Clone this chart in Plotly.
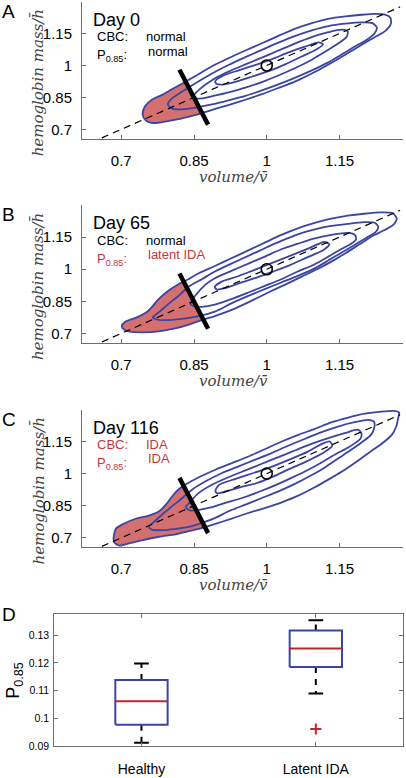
import plotly.graph_objects as go

# ---------------- data ----------------
TICK_VALS = [0.7, 0.85, 1.0, 1.15]
TICK_TEXT = ["0.7", "0.85", "1", "1.15"]
DAYS = ["Day 0", "Day 65", "Day 116"]
CBC_STATUS = ["normal", "normal", "IDA"]
P085_STATUS = ["normal", "latent IDA", "IDA"]
PANEL_LETTERS = ["A", "B", "C", "D"]

MEAN_POINT = [1.0, 1.0]
DIAG = [0.66, 1.275]                       # y = x reference line
THRESH_X = [0.820, 0.879]                  # P0.85 threshold segment
THRESH_Y = [0.980, 0.722]

# Panel A contours (outer -> inner)
A_L1_X = [0.744,0.749,0.763,0.784,0.804,0.825,0.853,0.887,0.921,0.956,0.990,1.024,1.059,1.093,1.127,1.162,1.196,1.224,1.244,1.255,1.256,1.246,1.227,1.203,1.176,1.148,1.121,1.093,1.059,1.024,0.990,0.956,0.921,0.887,0.856,0.825,0.798,0.776,0.760,0.749]
A_L1_Y = [0.772,0.808,0.839,0.862,0.888,0.914,0.950,0.996,1.034,1.070,1.104,1.139,1.173,1.199,1.219,1.230,1.238,1.242,1.239,1.224,1.196,1.165,1.138,1.107,1.070,1.031,0.996,0.962,0.925,0.894,0.865,0.839,0.814,0.791,0.769,0.752,0.740,0.731,0.731,0.745]
A_L2_X = [0.796,0.803,0.825,0.853,0.887,0.921,0.956,0.990,1.024,1.059,1.093,1.127,1.162,1.196,1.218,1.227,1.222,1.207,1.179,1.152,1.124,1.093,1.059,1.024,0.990,0.956,0.921,0.887,0.853,0.825,0.806]
A_L2_Y = [0.817,0.842,0.876,0.916,0.962,1.002,1.039,1.073,1.107,1.139,1.165,1.185,1.196,1.202,1.199,1.178,1.150,1.122,1.085,1.048,1.011,0.977,0.943,0.911,0.883,0.857,0.836,0.817,0.802,0.794,0.796]
A_L3_X = [0.849,0.863,0.887,0.921,0.956,0.990,1.024,1.059,1.093,1.127,1.155,1.167,1.165,1.148,1.121,1.093,1.059,1.024,0.990,0.956,0.921,0.890,0.866,0.853]
A_L3_Y = [0.857,0.891,0.931,0.971,1.005,1.037,1.070,1.104,1.133,1.156,1.168,1.158,1.135,1.104,1.065,1.027,0.988,0.953,0.922,0.896,0.874,0.857,0.845,0.845]
A_L4_X = [0.894,0.911,0.942,0.976,1.011,1.045,1.079,1.107,1.116,1.103,1.072,1.038,1.004,0.969,0.935,0.908,0.896]
A_L4_Y = [0.927,0.953,0.977,1.002,1.030,1.061,1.088,1.108,1.099,1.076,1.042,1.005,0.973,0.947,0.923,0.910,0.914]

# Panel B contours
B_L1_X = [0.701,0.708,0.732,0.756,0.777,0.797,0.818,0.832,0.859,0.893,0.927,0.962,0.996,1.030,1.064,1.099,1.133,1.167,1.201,1.236,1.260,1.268,1.262,1.244,1.218,1.191,1.164,1.136,1.105,1.071,1.037,1.003,0.968,0.934,0.893,0.866,0.838,0.811,0.777,0.742,0.718,0.705]
B_L1_Y = [0.734,0.754,0.775,0.806,0.860,0.899,0.930,0.945,0.980,1.015,1.051,1.088,1.124,1.160,1.191,1.216,1.236,1.250,1.259,1.265,1.261,1.237,1.209,1.184,1.155,1.116,1.077,1.039,1.001,0.964,0.927,0.891,0.852,0.816,0.781,0.762,0.740,0.723,0.709,0.705,0.708,0.719]
B_L2_X = [0.765,0.777,0.797,0.818,0.838,0.866,0.893,0.927,0.962,0.996,1.030,1.064,1.099,1.133,1.167,1.201,1.223,1.230,1.225,1.208,1.181,1.153,1.126,1.099,1.064,1.030,0.996,0.962,0.927,0.893,0.859,0.825,0.790,0.773]
B_L2_Y = [0.775,0.798,0.837,0.875,0.917,0.953,0.989,1.026,1.062,1.098,1.132,1.163,1.186,1.202,1.212,1.220,1.217,1.197,1.175,1.150,1.113,1.076,1.039,1.004,0.969,0.938,0.907,0.875,0.840,0.802,0.781,0.768,0.762,0.765]
B_L3_X = [0.842,0.852,0.873,0.893,0.927,0.962,0.996,1.030,1.064,1.099,1.133,1.167,1.182,1.184,1.174,1.153,1.126,1.099,1.064,1.030,0.996,0.962,0.927,0.893,0.866,0.849]
B_L3_Y = [0.840,0.875,0.927,0.958,0.992,1.026,1.059,1.093,1.119,1.144,1.160,1.170,1.160,1.139,1.119,1.093,1.057,1.023,0.989,0.953,0.922,0.891,0.860,0.834,0.824,0.827]
B_L4_X = [0.893,0.907,0.941,0.975,1.010,1.044,1.085,1.119,1.129,1.116,1.082,1.047,1.013,0.979,0.945,0.914,0.897]
B_L4_Y = [0.917,0.942,0.967,0.997,1.028,1.059,1.096,1.127,1.116,1.088,1.054,1.018,0.989,0.961,0.936,0.911,0.905]

# Panel C contours
C_L1_X = [0.684,0.689,0.706,0.730,0.757,0.778,0.792,0.805,0.819,0.829,0.860,0.894,0.928,0.962,0.997,1.031,1.065,1.099,1.133,1.168,1.202,1.236,1.263,1.273,1.271,1.267,1.258,1.239,1.215,1.188,1.161,1.133,1.099,1.065,1.031,0.997,0.962,0.928,0.894,0.860,0.839,0.812,0.778,0.744,0.716,0.696,0.686]
C_L1_Y = [0.697,0.743,0.767,0.789,0.804,0.824,0.855,0.894,0.928,0.944,0.983,1.018,1.049,1.080,1.115,1.150,1.181,1.209,1.239,1.262,1.280,1.290,1.293,1.285,1.259,1.220,1.181,1.143,1.104,1.060,1.018,0.980,0.936,0.897,0.866,0.840,0.816,0.790,0.765,0.742,0.731,0.716,0.705,0.689,0.674,0.664,0.677]
C_L2_X = [0.757,0.768,0.788,0.809,0.826,0.846,0.874,0.908,0.942,0.976,1.010,1.044,1.079,1.113,1.147,1.181,1.209,1.221,1.222,1.215,1.198,1.174,1.147,1.120,1.092,1.058,1.024,0.990,0.956,0.921,0.894,0.867,0.839,0.812,0.785,0.764]
C_L2_Y = [0.750,0.775,0.816,0.855,0.886,0.925,0.964,1.003,1.034,1.065,1.096,1.130,1.163,1.194,1.220,1.240,1.251,1.243,1.216,1.181,1.150,1.111,1.070,1.029,0.992,0.952,0.917,0.886,0.855,0.824,0.793,0.770,0.751,0.742,0.736,0.737]
C_L3_X = [0.833,0.843,0.860,0.887,0.921,0.956,0.990,1.024,1.058,1.092,1.127,1.161,1.188,1.195,1.194,1.185,1.168,1.140,1.113,1.086,1.051,1.017,0.983,0.949,0.915,0.887,0.863,0.843]
C_L3_Y = [0.843,0.871,0.910,0.948,0.983,1.015,1.046,1.077,1.108,1.139,1.166,1.189,1.205,1.189,1.166,1.147,1.122,1.088,1.052,1.018,0.980,0.945,0.914,0.886,0.863,0.843,0.832,0.827]
C_L4_X = [0.894,0.902,0.928,0.962,1.003,1.044,1.086,1.113,1.130,1.135,1.116,1.082,1.048,1.014,0.980,0.945,0.915,0.898]
C_L4_Y = [0.920,0.948,0.970,0.995,1.026,1.063,1.104,1.138,1.150,1.130,1.096,1.057,1.023,0.987,0.956,0.936,0.917,0.908]

# Panel D box plot statistics
BOX_CATS = ["Healthy", "Latent IDA"]
BOX_Q1 = [0.0976, 0.1185]
BOX_MED = [0.1061, 0.1252]
BOX_Q3 = [0.1138, 0.1317]
BOX_WLO = [0.0911, 0.1089]
BOX_WHI = [0.1198, 0.1354]
OUTLIER_CAT = [2]
OUTLIER_Y = [0.0961]
D_TICK_VALS = [0.09, 0.10, 0.11, 0.12, 0.13]
D_TICK_TEXT = ["0.09", "0.1", "0.11", "0.12", "0.13"]

# ---------------- style ----------------
W, H = 406, 778
SANS = "Liberation Sans, Arial, sans-serif"
SERIF = "DejaVu Serif, Liberation Serif, serif"
BLUE = "#3a45a3"
FILL = "#d4706f"
RED_TXT = "#c8363a"
MED_RED = "#c0262c"
AXIS_COL = "#6e6e6e"
XR = [0.619, 1.281]
YR = [0.655, 1.298]


def px(x):
    return x / W


def py(y):
    return 1 - y / H


# panel geometry in pixels (left, right, top, bottom)
PANELS = [(82, 403, 2, 140), (82, 403, 207, 345.7), (82, 403, 413, 551.7)]
PANEL_D = (54.3, 403, 618.3, 751.7)

CONTOURS = [
    [(A_L1_X, A_L1_Y), (A_L2_X, A_L2_Y), (A_L3_X, A_L3_Y), (A_L4_X, A_L4_Y)],
    [(B_L1_X, B_L1_Y), (B_L2_X, B_L2_Y), (B_L3_X, B_L3_Y), (B_L4_X, B_L4_Y)],
    [(C_L1_X, C_L1_Y), (C_L2_X, C_L2_Y), (C_L3_X, C_L3_Y), (C_L4_X, C_L4_Y)],
]
for panel in CONTOURS:
    for cx, cy in panel:
        assert len(cx) == len(cy)


def clip_left(xs, ys):
    """Keep the part of polygon lying on the same side of threshold line as its first vertex."""
    p1 = (THRESH_X[0], THRESH_Y[0])
    p2 = (THRESH_X[1], THRESH_Y[1])

    def side(x, y):
        return (p2[0] - p1[0]) * (y - p1[1]) - (p2[1] - p1[1]) * (x - p1[0])

    ref = side(xs[0], ys[0])
    out = []
    n = len(xs)
    for i in range(n):
        ax, ay = xs[i], ys[i]
        bx, by = xs[(i + 1) % n], ys[(i + 1) % n]
        sa, sb = side(ax, ay) * ref, side(bx, by) * ref
        if sa >= 0:
            out.append((ax, ay))
        if (sa >= 0) != (sb >= 0):
            t = sa / (sa - sb)
            out.append((ax + t * (bx - ax), ay + t * (by - ay)))
    return [p[0] for p in out], [p[1] for p in out]


fig = go.Figure()
layout = dict(
    width=W, height=H, margin=dict(l=0, r=0, t=0, b=0),
    paper_bgcolor="white", plot_bgcolor="white", showlegend=False,
)
annotations = []

for k, (l, r, t, b) in enumerate(PANELS):
    sfx = "" if k == 0 else str(k + 1)
    xa, ya = "x" + sfx, "y" + sfx
    contours = CONTOURS[k]

    # red fill: outer contour left of threshold
    fx, fy = clip_left(contours[0][0], contours[0][1])
    fig.add_trace(go.Scatter(x=fx + [fx[0]], y=fy + [fy[0]], mode="lines", fill="toself",
                             fillcolor=FILL, line=dict(width=0, color=FILL, shape="spline", smoothing=0.7),
                             xaxis=xa, yaxis=ya, hoverinfo="skip"))
    for cx, cy in contours:
        fig.add_trace(go.Scatter(x=list(cx) + [cx[0]], y=list(cy) + [cy[0]], mode="lines",
                                 line=dict(color=BLUE, width=1.8, shape="spline", smoothing=0.7),
                                 xaxis=xa, yaxis=ya, hoverinfo="skip"))
    fig.add_trace(go.Scatter(x=DIAG, y=DIAG, mode="lines",
                             line=dict(color="black", width=1.2, dash="7px,5px"),
                             xaxis=xa, yaxis=ya, hoverinfo="skip"))
    fig.add_trace(go.Scatter(x=THRESH_X, y=THRESH_Y, mode="lines",
                             line=dict(color="black", width=4.5),
                             xaxis=xa, yaxis=ya, hoverinfo="skip"))
    fig.add_trace(go.Scatter(x=[MEAN_POINT[0]], y=[MEAN_POINT[1]], mode="markers",
                             marker=dict(symbol="circle-open", size=11, color="black",
                                         line=dict(width=1.6, color="black")),
                             xaxis=xa, yaxis=ya, hoverinfo="skip"))

    common = dict(showline=True, linecolor=AXIS_COL, linewidth=1, ticks="inside", ticklen=4,
                  tickcolor=AXIS_COL, showgrid=False, zeroline=False,
                  tickvals=TICK_VALS, ticktext=TICK_TEXT,
                  tickfont=dict(family=SANS, size=15, color="black"))
    layout["xaxis" + sfx] = dict(common, domain=[px(l), px(r)], range=XR, anchor=ya,
                                 ticklabelstandoff=8)
    layout["yaxis" + sfx] = dict(common, domain=[py(b), py(t)], range=YR, anchor=xa,
                                 ticklabelstandoff=6)

    # texts
    annotations.append(dict(text=PANEL_LETTERS[k], x=px(8.5), y=py(t + 9.5), xanchor="center",
                            yanchor="middle", font=dict(family=SANS, size=19, color="black")))
    annotations.append(dict(text=DAYS[k], x=px(91), y=py(t + 18), xanchor="left",
                            yanchor="middle", font=dict(family=SANS, size=18, color="black")))
    cbc_col = RED_TXT if CBC_STATUS[k] != "normal" else "black"
    p_col = RED_TXT if P085_STATUS[k] != "normal" else "black"
    annotations.append(dict(text="CBC:", x=px(95), y=py(t + 35), xanchor="left", yanchor="middle",
                            font=dict(family=SANS, size=13, color=cbc_col)))
    annotations.append(dict(text=CBC_STATUS[k], x=px(144), y=py(t + 35), xanchor="left",
                            yanchor="middle", font=dict(family=SANS, size=13, color=cbc_col)))
    annotations.append(dict(text="P<sub>0.85</sub>:", x=px(95), y=py(t + 43.5), xanchor="left",
                            yanchor="top", font=dict(family=SANS, size=13, color=p_col)))
    annotations.append(dict(text=P085_STATUS[k], x=px(146), y=py(t + 49.5), xanchor="left",
                            yanchor="middle", font=dict(family=SANS, size=13, color=p_col)))
    # axis titles
    annotations.append(dict(text="<i>volume/v\u0304</i>", x=px(233), y=py(b + 38), xanchor="center",
                            yanchor="middle", font=dict(family=SERIF, size=15, color="#444444")))
    annotations.append(dict(text="<i>hemoglobin mass/h\u0304</i>", x=px(38), y=py((t + b) / 2 + 13),
                            xanchor="center", yanchor="middle", textangle=-90,
                            font=dict(family=SERIF, size=15, color="#444444")))

# ---------------- panel D ----------------
BOX_HALF = 0.15
CAP_HALF = 0.042
for i, cat in enumerate(BOX_CATS):
    c = i + 1
    fig.add_trace(go.Scatter(x=[c, c], y=[BOX_Q3[i], BOX_WHI[i]], mode="lines",
                             line=dict(color="black", width=2, dash="6px,6px"),
                             xaxis="x4", yaxis="y4", hoverinfo="skip"))
    fig.add_trace(go.Scatter(x=[c, c], y=[BOX_Q1[i], BOX_WLO[i]], mode="lines",
                             line=dict(color="black", width=2, dash="6px,6px"),
                             xaxis="x4", yaxis="y4", hoverinfo="skip"))
    for cap in (BOX_WHI[i], BOX_WLO[i]):
        fig.add_trace(go.Scatter(x=[c - CAP_HALF, c + CAP_HALF], y=[cap, cap], mode="lines",
                                 line=dict(color="black", width=2),
                                 xaxis="x4", yaxis="y4", hoverinfo="skip"))
    fig.add_trace(go.Scatter(x=[c - BOX_HALF, c + BOX_HALF, c + BOX_HALF, c - BOX_HALF, c - BOX_HALF],
                             y=[BOX_Q1[i], BOX_Q1[i], BOX_Q3[i], BOX_Q3[i], BOX_Q1[i]], mode="lines",
                             line=dict(color=BLUE, width=2),
                             xaxis="x4", yaxis="y4", hoverinfo="skip"))
    fig.add_trace(go.Scatter(x=[c - BOX_HALF, c + BOX_HALF], y=[BOX_MED[i], BOX_MED[i]], mode="lines",
                             line=dict(color=MED_RED, width=2),
                             xaxis="x4", yaxis="y4", hoverinfo="skip"))
fig.add_trace(go.Scatter(x=OUTLIER_CAT, y=OUTLIER_Y, mode="markers",
                         marker=dict(symbol="cross-thin", size=8, line=dict(color=MED_RED, width=2)),
                         xaxis="x4", yaxis="y4", hoverinfo="skip"))

l, r, t, b = PANEL_D
d_common = dict(showline=True, linecolor=AXIS_COL, linewidth=1, mirror="ticks", ticks="inside",
                ticklen=4, tickcolor=AXIS_COL, showgrid=False, zeroline=False)
layout["xaxis4"] = dict(d_common, domain=[px(l), px(r)], range=[0.5, 2.5], anchor="y4",
                        tickvals=[1, 2], ticktext=BOX_CATS, ticklabelstandoff=10,
                        tickfont=dict(family=SANS, size=14, color="black"))
layout["yaxis4"] = dict(d_common, domain=[py(b), py(t)], range=[0.09, 0.1378], anchor="x4",
                        tickvals=D_TICK_VALS, ticktext=D_TICK_TEXT, ticklabelstandoff=2,
                        tickfont=dict(family=SANS, size=10.5, color="black"))
annotations.append(dict(text=PANEL_LETTERS[3], x=px(8.5), y=py(619.5), xanchor="center",
                        yanchor="middle", font=dict(family=SANS, size=19, color="black")))
annotations.append(dict(text="P<sub>0.85</sub>", x=px(15), y=py(686), xanchor="center",
                        yanchor="middle", textangle=-90,
                        font=dict(family=SANS, size=18, color="black")))

for a in annotations:
    a.update(xref="paper", yref="paper", showarrow=False)
layout["annotations"] = annotations
fig.update_layout(**layout)
fig.write_html("out.html", config={"displayModeBar": False},
               post_script="document.body.style.margin='0';document.body.style.padding='0';")
